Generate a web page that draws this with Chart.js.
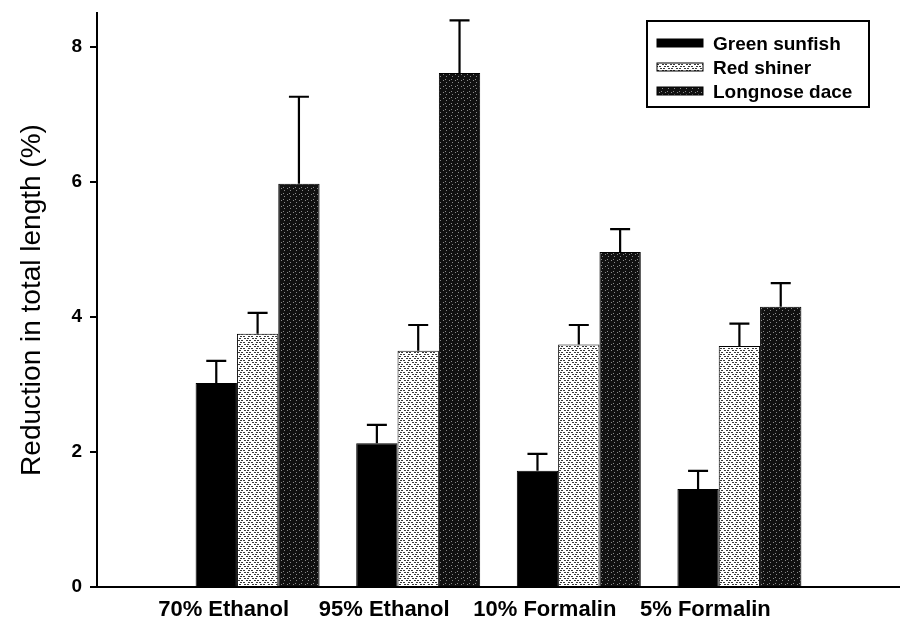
<!DOCTYPE html>
<html>
<head>
<meta charset="utf-8">
<script src="https://cdn.jsdelivr.net/npm/chart.js@4.4.0/dist/chart.umd.min.js"></script>
<style>
  html, body { margin: 0; padding: 0; background: #fff; }
  #wrap { width: 900px; height: 620px; position: relative; }
</style>
</head>
<body>
<div id="wrap"><canvas id="chart"></canvas></div>
<script>
// ── Data ──────────────────────────────────────────────
const categories = ['70% Ethanol', '95% Ethanol', '10% Formalin', '5% Formalin'];
const speciesNames = ['Green sunfish', 'Red shiner', 'Longnose dace'];

const greenSunfish = [3.02, 2.13, 1.72, 1.45];
const redShiner    = [3.75, 3.50, 3.59, 3.57];
const longnoseDace = [5.97, 7.61, 4.96, 4.15];

const greenSunfishErr = [0.33, 0.27, 0.25, 0.27];
const redShinerErr    = [0.31, 0.38, 0.29, 0.33];
const longnoseDaceErr = [1.29, 0.78, 0.34, 0.35];

const yTicks = [0, 2, 4, 6, 8];

const FONT = "'Liberation Sans', Arial, sans-serif";

// blank slot on each side so the groups sit where the original puts them
const labels = ['', ...categories, ''];
const pad = arr => [null, ...arr, null];

// ── Print-like fill textures ──────────────────────────
function makePattern(rows, bg, fg) {
  const c = document.createElement('canvas');
  c.width = rows[0].length; c.height = rows.length;
  const g = c.getContext('2d');
  g.fillStyle = bg; g.fillRect(0, 0, c.width, c.height);
  g.fillStyle = fg;
  rows.forEach((r, y) => [...r].forEach((ch, x) => { if (ch === '1') g.fillRect(x, y, 1, 1); }));
  return g.createPattern(c, 'repeat');
}
const lightTex = makePattern([
  '11011000',
  '00000000',
  '10001101',
  '00000000',
  '01100011',
  '00000000'
], '#ffffff', '#3a3a3a');
const darkTex = makePattern([
  '000000',
  '010000',
  '000001',
  '000000',
  '001000',
  '000000'
], '#111111', '#8a8a8a');

const fills = ['#000000', lightTex, darkTex];

// ── Error bars (mean + SE, upper only) ────────────────
const errorBars = {
  id: 'errorBars',
  afterDatasetsDraw(chart) {
    const { ctx, scales: { y } } = chart;
    ctx.save();
    ctx.strokeStyle = '#000';
    ctx.lineWidth = 2.2;
    chart.data.datasets.forEach((ds, di) => {
      chart.getDatasetMeta(di).data.forEach((bar, i) => {
        const v = ds.data[i], e = ds.errors[i];
        if (v == null || e == null) return;
        const top = y.getPixelForValue(v + e);
        ctx.beginPath();
        ctx.moveTo(bar.x, bar.y);
        ctx.lineTo(bar.x, top);
        ctx.moveTo(bar.x - 10, top);
        ctx.lineTo(bar.x + 10, top);
        ctx.stroke();
      });
    });
    ctx.restore();
  }
};

// ── Boxed legend inside the plot, top right ───────────
const boxLegend = {
  id: 'boxLegend',
  afterDraw(chart) {
    const { ctx } = chart;
    const x0 = 647, y0 = 21, w = 222, h = 86;
    ctx.save();
    ctx.fillStyle = '#fff';
    ctx.fillRect(x0, y0, w, h);
    ctx.strokeStyle = '#000';
    ctx.lineWidth = 2;
    ctx.strokeRect(x0, y0, w, h);
    ctx.font = 'bold 19px ' + FONT;
    ctx.textBaseline = 'middle';
    chart.data.datasets.forEach((ds, i) => {
      const cy = y0 + 22 + i * 24;
      ctx.fillStyle = ds.backgroundColor;
      ctx.fillRect(x0 + 10, cy - 4, 46, 8);
      ctx.lineWidth = 1;
      ctx.strokeRect(x0 + 10, cy - 4, 46, 8);
      ctx.fillStyle = '#000';
      ctx.fillText(ds.label, x0 + 66, cy + 2);
    });
    ctx.restore();
  }
};

const series = [greenSunfish, redShiner, longnoseDace];
const errs = [greenSunfishErr, redShinerErr, longnoseDaceErr];

new Chart(document.getElementById('chart'), {
  type: 'bar',
  data: {
    labels,
    datasets: series.map((s, i) => ({
      label: speciesNames[i],
      data: pad(s),
      errors: pad(errs[i]),
      backgroundColor: fills[i],
      borderColor: '#000',
      borderWidth: 1,
      categoryPercentage: 0.772,
      barPercentage: 1.0
    }))
  },
  options: {
    responsive: true,
    maintainAspectRatio: false,
    animation: false,
    layout: { padding: { top: 13, right: 0, bottom: 0, left: 0 } },
    plugins: { legend: { display: false }, tooltip: { enabled: false } },
    scales: {
      x: {
        offset: false,
        // invisible tick marks give the label gap without padding the right end
        grid: { display: true, drawOnChartArea: false, drawTicks: true, tickLength: 10, color: 'rgba(0,0,0,0)' },
        border: { display: true, color: '#000', width: 2 },
        ticks: {
          color: '#000',
          font: { family: FONT, size: 22, weight: 'bold' },
          padding: 0,
          labelOffset: -34,
          maxRotation: 0,
          autoSkip: false
        },
        afterFit: s => { s.height = 33; }
      },
      y: {
        min: 0,
        max: 8.5,
        afterBuildTicks: s => { s.ticks = yTicks.map(v => ({ value: v })); },
        grid: { display: true, drawOnChartArea: false, color: '#000', lineWidth: 2, tickLength: 7 },
        border: { display: true, color: '#000', width: 2 },
        ticks: {
          color: '#000',
          font: { family: FONT, size: 19, weight: 'bold', lineHeight: 0.5 },
          padding: 8
        },
        title: {
          display: true,
          text: 'Reduction in total length (%)',
          color: '#000',
          font: { family: FONT, size: 28 },
          padding: { top: 15, bottom: 0 }
        },
        afterFit: s => { s.width = 97; }
      }
    }
  },
  plugins: [errorBars, boxLegend]
});
</script>
</body>
</html>
